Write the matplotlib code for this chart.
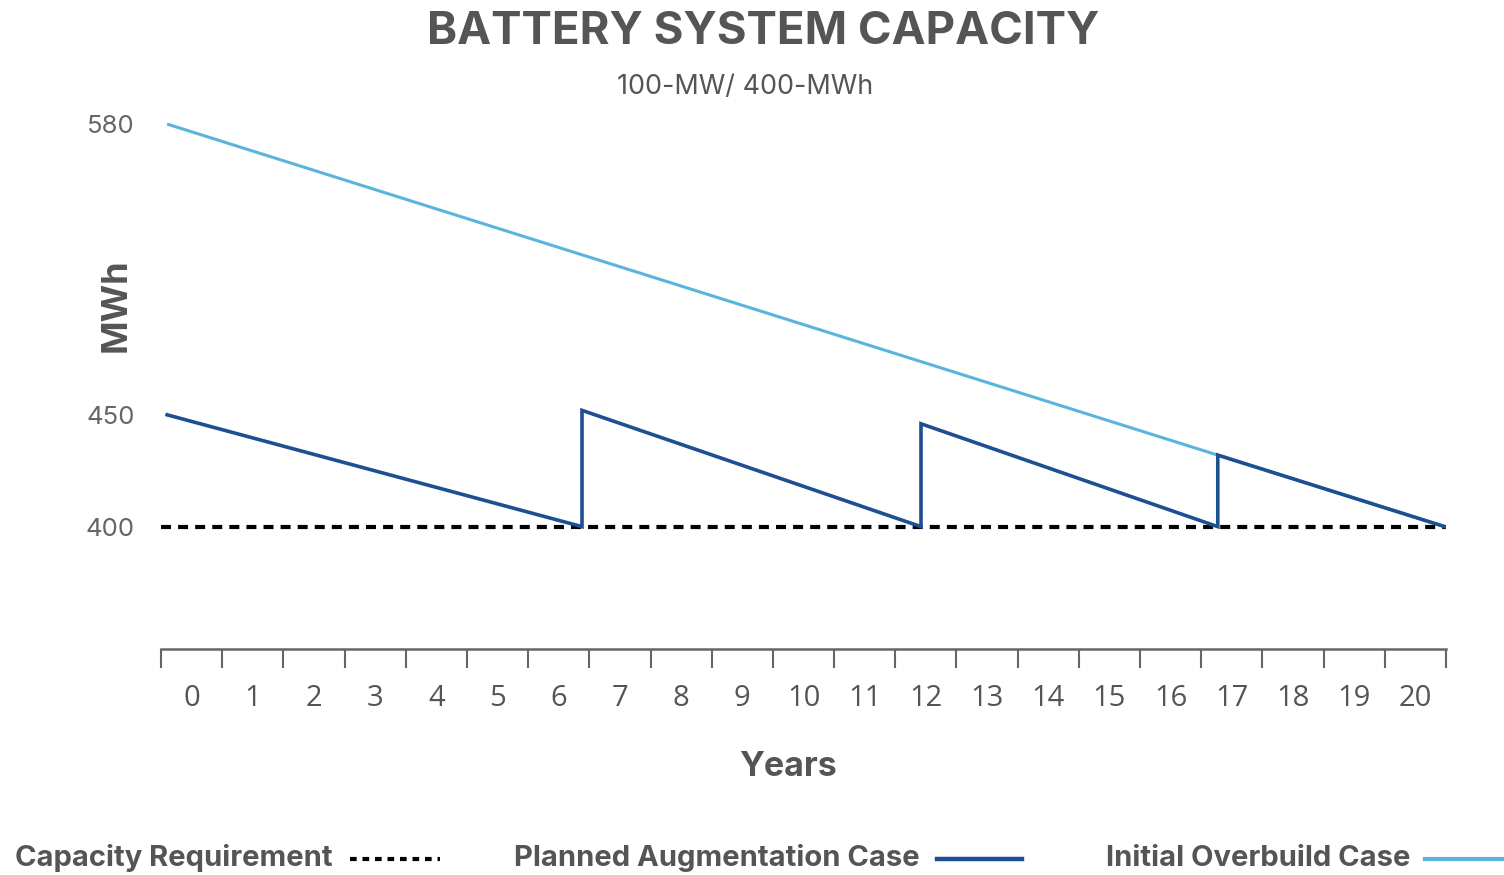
import matplotlib.pyplot as plt
from matplotlib.lines import Line2D

# chart values
year_labels = [str(y) for y in range(21)]
req_x = [0, 21]
req_y = [400, 400]
planned_x = [0.1, 6.88, 6.88, 12.42, 12.42, 17.27, 17.27, 20.98]
planned_y = [450, 400, 452, 400, 446, 400, 432, 400]
overbuild_x = [0.1, 20.98]
overbuild_y = [580, 400]
y_ticks = [400, 450, 580]

DARK = "#1d4f91"
LIGHT = "#5ab4dc"
GREY = "#555555"
HEAD = ["Inter", "DejaVu Sans"]

plt.rcParams["font.family"] = ["Open Sans", "DejaVu Sans"]

fig = plt.figure(figsize=(15.04, 8.75), dpi=100)
ax = fig.add_axes([0.10705, 0.2583, 0.8544, 0.616])

ax.plot(overbuild_x, overbuild_y, color=LIGHT, lw=2.2, zorder=2, solid_capstyle="butt")
ax.plot(req_x, req_y, color="black", lw=3, dashes=(2.4, 1.7), zorder=3)
ax.plot(planned_x, planned_y, color=DARK, lw=2.6, zorder=4, solid_joinstyle="miter")

ax.set_xlim(0, 21)
ax.set_ylim(345.3, 586.3)

for s in ["top", "right", "left"]:
    ax.spines[s].set_visible(False)
ax.spines["bottom"].set_color("#666666")
ax.spines["bottom"].set_linewidth(1.8)

# tick marks on boundaries, labels centred between them
ax.set_xticks(range(22))
ax.set_xticklabels([])
ax.set_xticks([y + 0.5 for y in range(21)], minor=True)
ax.set_xticklabels(year_labels, minor=True, fontsize=21, color=GREY)
ax.tick_params(axis="x", which="major", direction="out", length=13.5,
               width=1.5, color="#666666")
ax.tick_params(axis="x", which="minor", length=0, pad=25)

ax.set_yticks(y_ticks)
ax.set_yticklabels([str(v) for v in y_ticks], fontsize=18.5, color="#666666",
                   family=HEAD)
ax.tick_params(axis="y", length=0, pad=19)

ax.set_ylabel("MWh", fontsize=26, fontweight="bold", color=GREY, family=HEAD)
ax.yaxis.set_label_coords(-0.022, 0.638)
ax.set_xlabel("Years", fontsize=24.5, fontweight="bold", color=GREY, family=HEAD)
ax.xaxis.set_label_coords(0.488, -0.19)

fig.text(0.5073, 1 - 44 / 875, "BATTERY SYSTEM CAPACITY", ha="center", va="baseline",
         fontsize=32.8, fontweight="bold", color=GREY, family=HEAD)
fig.text(0.4953, 1 - 94 / 875, "100-MW/ 400-MWh", ha="center", va="baseline",
         fontsize=19.4, color=GREY, family=HEAD)

# bottom legend: label then line sample
legend_items = [
    ("Capacity Requirement", 333, 350, 440, dict(color="black", lw=3, dashes=(1.6, 1.4))),
    ("Planned Augmentation Case", 920, 937, 1022, dict(color=DARK, lw=3.2)),
    ("Initial Overbuild Case", 1410, 1425, 1504, dict(color=LIGHT, lw=3)),
]
W, H = 1504, 875
for label, tx, x0, x1, style in legend_items:
    fig.text(tx / W, 1 - 866 / H, label, ha="right", va="baseline",
             fontsize=21, fontweight="bold", color=GREY, family=HEAD)
    fig.add_artist(Line2D([x0 / W, x1 / W], [1 - 859 / H] * 2, **style))

fig.savefig("out.png", dpi=100)
